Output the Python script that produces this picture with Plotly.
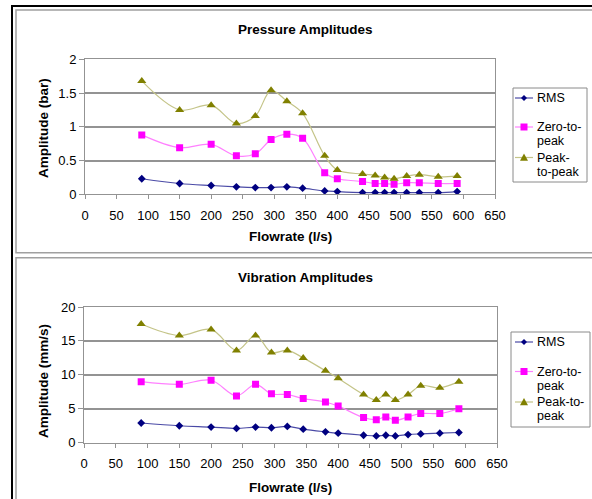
import plotly.graph_objects as go

# ---------------- data ----------------
flowrate = [90, 150, 200, 240, 270, 295, 320, 345, 380, 400, 440, 460, 475, 490, 510, 530, 560, 590]

p_rms = [0.23, 0.16, 0.13, 0.11, 0.10, 0.10, 0.11, 0.09, 0.05, 0.04, 0.025, 0.025, 0.025, 0.025, 0.025, 0.025, 0.025, 0.04]
p_zero = [0.88, 0.69, 0.74, 0.57, 0.60, 0.81, 0.89, 0.83, 0.32, 0.23, 0.19, 0.16, 0.16, 0.15, 0.17, 0.17, 0.16, 0.16]
p_p2p = [1.68, 1.25, 1.32, 1.05, 1.16, 1.54, 1.38, 1.20, 0.57, 0.36, 0.30, 0.28, 0.25, 0.23, 0.27, 0.29, 0.26, 0.27]

v_rms = [2.9, 2.5, 2.3, 2.1, 2.3, 2.2, 2.4, 2.0, 1.6, 1.4, 1.1, 1.0, 1.1, 1.0, 1.2, 1.3, 1.4, 1.5]
v_zero = [9.0, 8.6, 9.2, 6.9, 8.6, 7.2, 7.1, 6.5, 6.0, 5.4, 3.7, 3.4, 3.8, 3.3, 3.8, 4.3, 4.3, 5.0]
v_p2p = [17.5, 15.8, 16.7, 13.6, 15.8, 13.3, 13.6, 12.5, 10.6, 9.5, 7.1, 6.3, 7.1, 6.3, 7.1, 8.4, 8.1, 9.0]

x_ticks = list(range(0, 651, 50))
p_ticks = [0, 0.5, 1, 1.5, 2]
p_ticktext = ["0", "0.5", "1", "1.5", "2"]
v_ticks = [0, 5, 10, 15, 20]

names_top = [["RMS"], ["Zero-to-", "peak"], ["Peak-", "to-peak"]]
names_bot = [["RMS"], ["Zero-to-", "peak"], ["Peak-to-", "peak"]]

# ---------------- styling ----------------
W, H = 592, 499
FONT = "Liberation Sans, Arial, sans-serif"
GRID = "#939393"
line_colors = ["#4a4aa6", "#ff80ff", "#c4c488"]
marker_colors = ["#000080", "#ff00ff", "#808000"]
symbols = ["diamond", "square", "triangle-up"]
sizes = [6, 7, 8]
TICK_SIZE = 13
TEXT_SIZE = 13.5
LEGEND_SIZE = 12.5


def px_x(p):
    return p / W


def px_y(p):
    return 1 - p / H


fig = go.Figure()
for ax, series_set in (("", [p_rms, p_zero, p_p2p]), ("2", [v_rms, v_zero, v_p2p])):
    for i, series in enumerate(series_set):
        fig.add_trace(go.Scatter(
            x=flowrate, y=series, mode="lines+markers", showlegend=False,
            xaxis="x" + ax, yaxis="y" + ax,
            line=dict(color=line_colors[i], width=1.2, shape="spline"),
            marker=dict(symbol=symbols[i], size=sizes[i], color=marker_colors[i]),
        ))

xcommon = dict(range=[0, 650], tickvals=x_ticks, showgrid=False, showline=True,
               linecolor=GRID, linewidth=1, mirror=True, ticks="outside", ticklen=4,
               tickcolor=GRID, tickfont=dict(family=FONT, size=TICK_SIZE, color="black"),
               ticklabelstandoff=5,
               zeroline=False, fixedrange=True, automargin=False)
ycommon = dict(showgrid=True, gridcolor=GRID, gridwidth=1.5, showline=True,
               linecolor=GRID, linewidth=1, mirror=True, ticks="outside", ticklen=5,
               tickcolor=GRID, tickfont=dict(family=FONT, size=TICK_SIZE, color="black"),
               zeroline=False, fixedrange=True, automargin=False)

fig.update_layout(
    template="none",
    width=W, height=H, margin=dict(l=0, r=0, t=0, b=0, pad=0, autoexpand=False),
    paper_bgcolor="white", plot_bgcolor="white",
    font=dict(family=FONT, size=12, color="black"),
    showlegend=False,
    xaxis=dict(domain=[px_x(85), px_x(495)], anchor="y", **xcommon),
    yaxis=dict(domain=[px_y(194.3), px_y(59.3)], anchor="x", range=[0, 2],
               tickvals=p_ticks, ticktext=p_ticktext, **ycommon),
    xaxis2=dict(domain=[px_x(84), px_x(497)], anchor="y2", **xcommon),
    yaxis2=dict(domain=[px_y(442.7), px_y(307)], anchor="x2", range=[0, 20],
                tickvals=v_ticks, **ycommon),
)

shapes = [
    dict(type="rect", x0=px_x(12), x1=px_x(640), y0=px_y(560), y1=px_y(6),
         line=dict(color="black", width=2)),
    dict(type="rect", x0=px_x(16), x1=px_x(620), y0=px_y(252.7), y1=px_y(10),
         line=dict(color="#a0a0a0", width=1.5)),
    dict(type="rect", x0=px_x(16), x1=px_x(620), y0=px_y(540), y1=px_y(257.7),
         line=dict(color="#a0a0a0", width=1.5)),
]

bold = dict(family=FONT, size=TEXT_SIZE, color="black")
ann = [
    dict(text="<b>Pressure Amplitudes</b>", x=px_x(305), y=px_y(30)),
    dict(text="<b>Flowrate (l/s)</b>", x=px_x(290), y=px_y(237)),
    dict(text="<b>Amplitude (bar)</b>", x=px_x(43), y=px_y(128), textangle=-90),
    dict(text="<b>Vibration Amplitudes</b>", x=px_x(305), y=px_y(277)),
    dict(text="<b>Flowrate (l/s)</b>", x=px_x(290), y=px_y(487)),
    dict(text="<b>Amplitude (mm/s)</b>", x=px_x(43), y=px_y(381), textangle=-90),
]
for a in ann:
    a.update(xanchor="center", yanchor="middle")


# ---------------- legends (box, sample line + marker, labels) ----------------
def marker_shape(kind, cx, cy, color, size):
    h = size / 2.0
    if kind == "diamond":
        path = (f"M {px_x(cx)},{px_y(cy - h)} L {px_x(cx + h)},{px_y(cy)} "
                f"L {px_x(cx)},{px_y(cy + h)} L {px_x(cx - h)},{px_y(cy)} Z")
        return dict(type="path", path=path, fillcolor=color, line=dict(width=0))
    if kind == "square":
        return dict(type="rect", x0=px_x(cx - h), x1=px_x(cx + h), y0=px_y(cy + h),
                    y1=px_y(cy - h), fillcolor=color, line=dict(width=0))
    path = (f"M {px_x(cx - h)},{px_y(cy + h * 0.8)} L {px_x(cx + h)},{px_y(cy + h * 0.8)} "
            f"L {px_x(cx)},{px_y(cy - h)} Z")
    return dict(type="path", path=path, fillcolor=color, line=dict(width=0))


def add_legend(box, item_ys, names, line_x0, line_x1, text_x, line_gap):
    x0, y0, x1, y1 = box
    shapes.append(dict(type="rect", x0=px_x(x0), x1=px_x(x1), y0=px_y(y1), y1=px_y(y0),
                       fillcolor="white", line=dict(color="#8a8a8a", width=1)))
    for i, (yy, lines) in enumerate(zip(item_ys, names)):
        shapes.append(dict(type="line", x0=px_x(line_x0), x1=px_x(line_x1),
                           y0=px_y(yy), y1=px_y(yy),
                           line=dict(color=line_colors[i], width=1.2)))
        shapes.append(marker_shape(symbols[i], (line_x0 + line_x1) / 2, yy,
                                   marker_colors[i], sizes[i]))
        for k, t in enumerate(lines):
            ann.append(dict(text=t, x=px_x(text_x), y=px_y(yy + k * line_gap),
                            xanchor="left", yanchor="middle",
                            font=dict(family=FONT, size=LEGEND_SIZE, color="black")))


add_legend((513, 88, 587, 182), [98, 127, 157.5], names_top, 515, 533, 535, 14)
add_legend((511, 332, 590, 427), [342, 371.5, 402], names_bot, 515, 533, 535, 14)

for s in shapes:
    s.update(xref="paper", yref="paper")
for a in ann:
    a.update(xref="paper", yref="paper", showarrow=False)
    a.setdefault("font", bold)

fig.update_layout(shapes=shapes, annotations=ann)

fig.write_html("out.html", config={"displayModeBar": False},
               post_script="document.body.style.margin='0px';")
